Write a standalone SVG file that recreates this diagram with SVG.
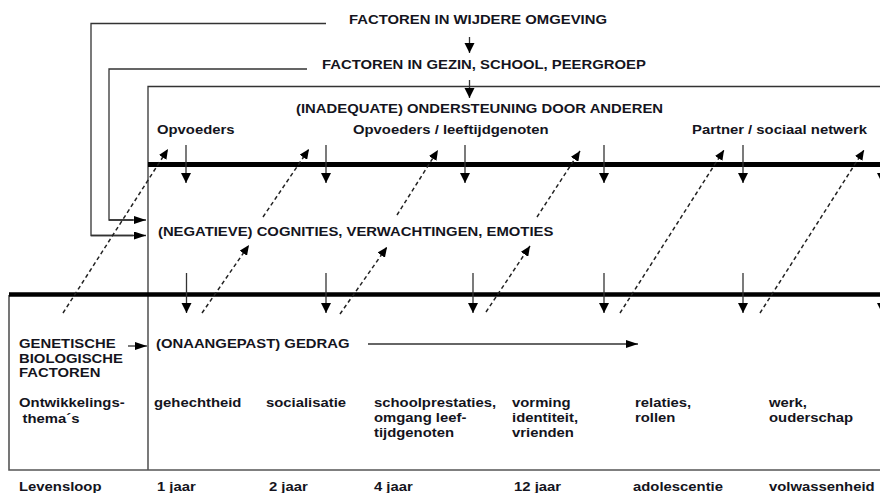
<svg xmlns="http://www.w3.org/2000/svg" width="880" height="493" viewBox="0 0 880 493">
<style>
text{font-family:"Liberation Sans",Arial,sans-serif;font-weight:bold;font-size:13.5px;fill:#141420}
.thin{stroke:#333;stroke-width:1.3;fill:none}
.thick{stroke:#000;stroke-width:5;fill:none}
.dash{stroke:#222;stroke-width:1.5;stroke-dasharray:4 3;fill:none;marker-end:url(#ah)}
.down{stroke:#333;stroke-width:1.3;fill:none;marker-end:url(#ad)}
.harr{stroke:#333;stroke-width:1.3;fill:none;marker-end:url(#ar)}
</style>
<defs>
<marker id="ah" markerUnits="userSpaceOnUse" markerWidth="11" markerHeight="9" refX="10" refY="4.5" orient="auto"><path d="M0,0 L10,4.5 L0,9 z" fill="#000"/></marker>
<marker id="ad" markerUnits="userSpaceOnUse" markerWidth="11" markerHeight="11" refX="10" refY="5" orient="auto"><path d="M0,0 L10,5 L0,10 z" fill="#000"/></marker>
<marker id="ar" markerUnits="userSpaceOnUse" markerWidth="13" markerHeight="9" refX="12" refY="4" orient="auto"><path d="M0,0 L12,4 L0,8 z" fill="#000"/></marker>
</defs>
<rect width="880" height="493" fill="#fff"/>
<g id="connectors">
<!-- frames -->
<polyline class="thin" points="326,23.5 91,23.5 91,235.5 133,235.5"/>
<line class="harr" x1="91" y1="235.5" x2="146" y2="235.5"/>
<polyline class="thin" points="307,69 109,69 109,220 133,220"/>
<line class="harr" x1="109" y1="220" x2="146" y2="220"/>
<polyline class="thin" points="880,86.5 148,86.5 148,470"/>
<polyline class="thin" points="9,295 9,470 880,470" style="stroke:#555;stroke-width:1.6"/>
<line class="thick" x1="148" y1="164.5" x2="880" y2="164.5"/>
<line class="thick" x1="9" y1="294.5" x2="880" y2="294.5" style="stroke-width:4.5"/>
<!-- top arrows -->
<line class="down" x1="469.5" y1="37" x2="469.5" y2="53"/>
<line class="down" x1="469.5" y1="80" x2="469.5" y2="98"/>
<!-- upper down arrows -->
<line class="down" x1="186" y1="145" x2="186" y2="183"/>
<line class="down" x1="326" y1="145" x2="326" y2="183"/>
<line class="down" x1="465" y1="145" x2="465" y2="183"/>
<line class="down" x1="604" y1="145" x2="604" y2="183"/>
<line class="down" x1="743" y1="145" x2="743" y2="183"/>
<line class="down" x1="882" y1="145" x2="882" y2="183"/>
<!-- lower down arrows -->
<line class="down" x1="186.5" y1="273" x2="186.5" y2="313"/>
<line class="down" x1="326" y1="273" x2="326" y2="313"/>
<line class="down" x1="473" y1="273" x2="473" y2="313"/>
<line class="down" x1="604" y1="273" x2="604" y2="313"/>
<line class="down" x1="743" y1="273" x2="743" y2="313"/>
<line class="down" x1="882" y1="273" x2="882" y2="313"/>
<!-- dashed feedback arrows -->
<line class="dash" x1="63" y1="313" x2="168" y2="149"/>
<line class="dash" x1="202" y1="313" x2="249" y2="245"/>
<line class="dash" x1="263" y1="217" x2="309" y2="149"/>
<line class="dash" x1="340" y1="314" x2="387" y2="247"/>
<line class="dash" x1="397" y1="215" x2="438" y2="150"/>
<line class="dash" x1="486" y1="312" x2="530" y2="246"/>
<line class="dash" x1="537" y1="217" x2="580" y2="151"/>
<line class="dash" x1="620" y1="313" x2="724" y2="150"/>
<line class="dash" x1="760" y1="313" x2="864" y2="150"/>
<!-- behaviour arrows -->
<line class="harr" x1="128" y1="346" x2="147" y2="346"/>
<line class="harr" x1="368" y1="344" x2="638" y2="344"/>
</g>
<g id="wijdere" transform="scale(1.1 1)"><text x="317.3" y="24">FACTOREN IN WIJDERE OMGEVING</text></g>
<g id="gezin" transform="scale(1.1 1)"><text x="292.7" y="69">FACTOREN IN GEZIN, SCHOOL, PEERGROEP</text></g>
<g id="ondersteuning" transform="scale(1.1 1)"><text x="269.1" y="113">(INADEQUATE) ONDERSTEUNING DOOR ANDEREN</text></g>
<g id="opvoeders" transform="scale(1.1 1)"><text x="142.7" y="134">Opvoeders</text></g>
<g id="opvoeders-leeftijd" transform="scale(1.1 1)"><text x="320.9" y="134">Opvoeders / leeftijdgenoten</text></g>
<g id="partner" transform="scale(1.1 1)"><text x="629.1" y="134">Partner / sociaal netwerk</text></g>
<g id="cognities" transform="scale(1.1 1)"><text x="143.6" y="236">(NEGATIEVE) COGNITIES, VERWACHTINGEN, EMOTIES</text></g>
<g id="genetische" transform="scale(1.1 1)"><text x="17.3" y="348">GENETISCHE</text><text x="17.3" y="362.7">BIOLOGISCHE</text><text x="17.3" y="377.3">FACTOREN</text></g>
<g id="gedrag" transform="scale(1.1 1)"><text x="141.8" y="348">(ONAANGEPAST) GEDRAG</text></g>
<g id="thema" transform="scale(1.1 1)"><text x="17.3" y="407.5">Ontwikkelings-</text><text x="20.5" y="422.7">thema´s</text></g>
<g id="gehechtheid" transform="scale(1.1 1)"><text x="140" y="407.5">gehechtheid</text></g>
<g id="socialisatie" transform="scale(1.1 1)"><text x="241.8" y="407.5">socialisatie</text></g>
<g id="school" transform="scale(1.1 1)"><text x="340" y="407.5">schoolprestaties,</text><text x="340" y="422.5">omgang leef-</text><text x="340" y="437.5">tijdgenoten</text></g>
<g id="vorming" transform="scale(1.1 1)"><text x="465.5" y="407.5">vorming</text><text x="465.5" y="422.5">identiteit,</text><text x="465.5" y="437.5">vrienden</text></g>
<g id="relaties" transform="scale(1.1 1)"><text x="577.3" y="407.5">relaties,</text><text x="577.3" y="422.5">rollen</text></g>
<g id="werk" transform="scale(1.1 1)"><text x="699.1" y="407.5">werk,</text><text x="699.1" y="422.5">ouderschap</text></g>
<g id="levensloop" transform="scale(1.1 1)"><text x="17.3" y="491">Levensloop</text></g>
<g id="jaar1" transform="scale(1.1 1)"><text x="142.7" y="491">1 jaar</text></g>
<g id="jaar2" transform="scale(1.1 1)"><text x="244.5" y="491">2 jaar</text></g>
<g id="jaar4" transform="scale(1.1 1)"><text x="340" y="491">4 jaar</text></g>
<g id="jaar12" transform="scale(1.1 1)"><text x="467.3" y="491">12 jaar</text></g>
<g id="adolescentie" transform="scale(1.1 1)"><text x="575.5" y="491">adolescentie</text></g>
<g id="volwassenheid" transform="scale(1.1 1)"><text x="699.1" y="491">volwassenheid</text></g>
</svg>
